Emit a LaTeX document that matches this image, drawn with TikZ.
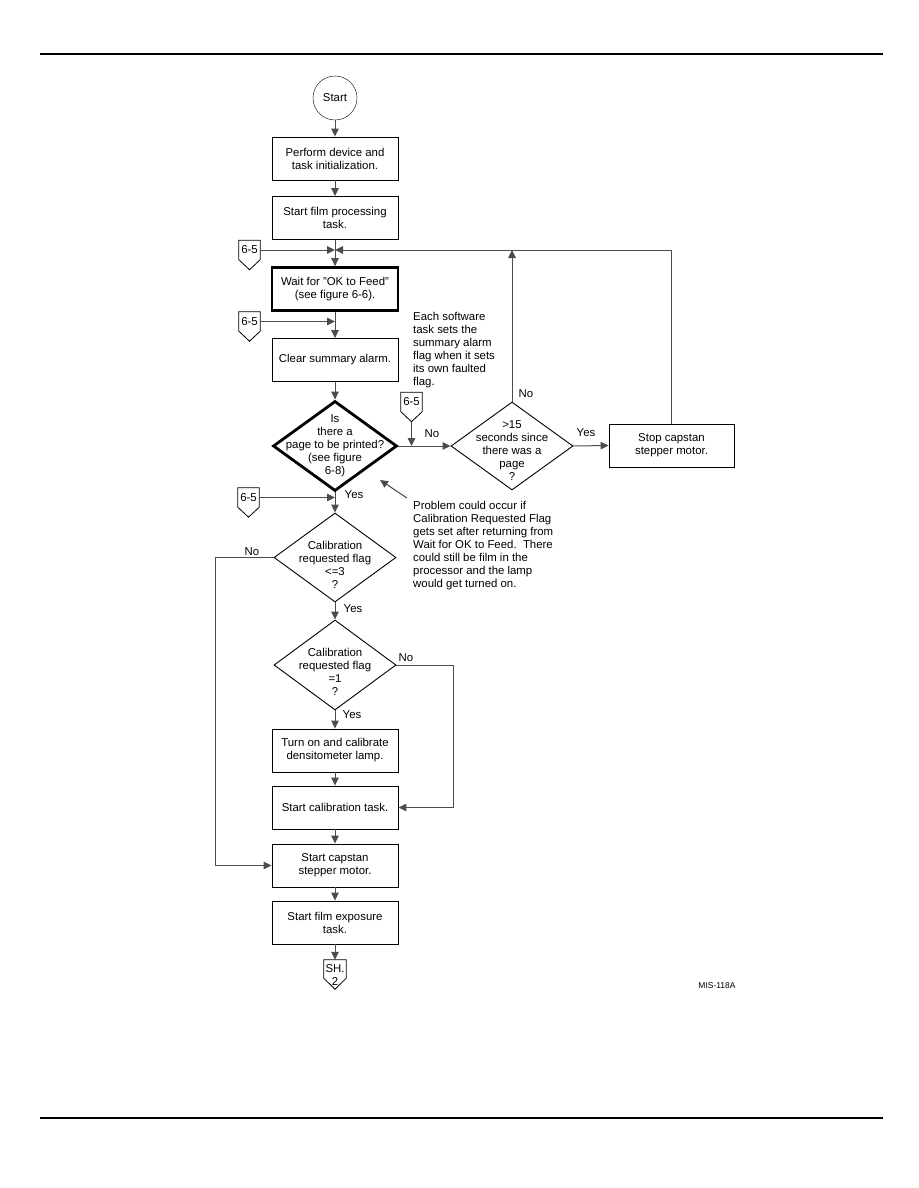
\documentclass[tikz,border=0pt]{standalone}
\usepackage{fontspec}
\setmainfont{Liberation Sans}
\usetikzlibrary{calc,shapes.geometric,arrows.meta}

\begin{document}
\begin{tikzpicture}[x=1pt, y=-1pt, >={Triangle[length=8pt,width=7.5pt]},
  txt/.style={font=\fontsize{11.4}{13}\selectfont},
  box/.style={txt, draw, line width=0.9pt, minimum width=126pt,
    minimum height=43pt, inner sep=0pt, align=center},
  dia/.style={draw, diamond, line width=0.9pt, minimum width=122pt,
    minimum height=88pt, inner sep=0pt},
  conn/.style={txt, minimum width=21pt, minimum height=19pt, inner sep=0pt},
  line/.style={draw=black!70, line width=1pt},
  lbl/.style={txt, inner sep=0pt},
  note/.style={txt, align=left, anchor=north west, inner sep=0pt}]

\useasboundingbox (0,0) rectangle (918,1188);

% Page rules
\draw[line width=2pt] (40,54) -- (883,54);
\draw[line width=2pt] (40,1118) -- (883,1118);

% Off-page connector: name, x, y, text
\def\offpage#1#2#3#4{%
  \node[conn] (#1) at (#2,#3) {#4};
  \draw[line width=0.8pt] (#1.north west) -- (#1.north east) -- (#1.south east)
    -- ($(#1.south)+(0,10)$) coordinate (#1-tip) -- (#1.south west) -- cycle;
}

% Main column
\node[draw, circle, minimum size=44pt, inner sep=0pt, txt] (start) at (335,98) {Start};
\node[box] (init) at (335,158.5) {Perform device and\\task initialization.};
\node[box] (proc) at (335,218) {Start film processing\\task.};
\coordinate (join) at (335,250);
\node[box, line width=2.8pt] (wait) at (335,289) {Wait for "OK to Feed"\\(see figure 6-6).};
\node[box] (clear) at (335,360) {Clear summary alarm.};
\node[dia, line width=2.8pt, minimum width=124pt, minimum height=90pt,
  label={[txt, align=center]center:Is\\there a\\page to be printed?\\(see figure\\6-8)}]
  (page) at (335,446) {};
\node[dia, label={[txt, align=center, yshift=-5pt]center:>15\\seconds since\\there was a\\page\\?}]
  (secs) at (512,446) {};
\node[box, minimum width=125pt] (stop) at (671.5,445.5) {Stop capstan\\stepper motor.};
\node[dia, minimum height=89pt,
  label={[txt, align=center, yshift=-7pt]center:Calibration\\requested flag\\<=3\\?}]
  (cal3) at (335,557.5) {};
\node[dia, minimum height=90pt,
  label={[txt, align=center, yshift=-7pt]center:Calibration\\requested flag\\=1\\?}]
  (cal1) at (335,665) {};
\node[box] (lamp) at (335,750.5) {Turn on and calibrate\\densitometer lamp.};
\node[box] (caltask) at (335,807.5) {Start calibration task.};
\node[box] (capstan) at (335,865.5) {Start capstan\\stepper motor.};
\node[box] (expo) at (335,922.5) {Start film exposure\\task.};

% Off-page connectors
\offpage{ca}{249.5}{250}{6-5}
\offpage{cb}{249.5}{321.5}{6-5}
\offpage{cc}{411.5}{402}{6-5}
\offpage{cd}{248.5}{497.5}{6-5}
\node[conn, minimum width=22pt, minimum height=18pt] (sh) at (335,969) {};
\draw[line width=0.8pt] (sh.north west) -- (sh.north east) -- (sh.south east)
  -- ($(sh.south)+(0,11)$) -- (sh.south west) -- cycle;
\node[txt, align=center, inner sep=0pt] (shtxt) at (335,975.5) {SH.\\2};

% Flow
\draw[line, ->] (start) -- (init);
\draw[line, ->] (init) -- (proc);
\draw[line, ->] (proc) -- (wait);
\draw[line, ->] (ca.east) -- (join);
\draw[line, ->] (stop.north) |- (join);
\draw[line, ->] (secs.north) -- (secs.north |- join);
\draw[line, ->] (wait) -- (clear);
\draw[line, ->] (cb.east) -- (cb.east -| wait.south);
\draw[line, ->] (clear) -- (page);
\draw[line, ->] (page.east) -- (secs.west);
\draw[line, ->] (cc-tip) -- (cc-tip |- page.east);
\draw[line, ->] (secs.east) -- (stop.west);
\draw[line, ->] (page.south) -- (cal3.north);
\draw[line, ->] (cd.east) -- (cd.east -| page.south);
\draw[line, ->] (cal3.south) -- (cal1.north);
\draw[line, ->] (cal3.west) -- ++(-58,0) |- (capstan.west);
\draw[line, ->] (cal1.east) -- ++(57,0) |- (caltask.east);
\draw[line, ->] (cal1.south) -- (lamp.north);
\draw[line, ->] (lamp) -- (caltask);
\draw[line, ->] (caltask) -- (capstan);
\draw[line, ->] (capstan) -- (expo);
\draw[line, ->] (expo) -- (sh.north);

% Branch labels
\node[lbl] (pageno) at (432,434) {No};
\node[lbl] (pageyes) at (354,495) {Yes};
\node[lbl] (secsno) at (526,394) {No};
\node[lbl] (secsyes) at (586,433) {Yes};
\node[lbl] (cal3no) at (252,552) {No};
\node[lbl] (cal3yes) at (353,609) {Yes};
\node[lbl] (cal1no) at (406,658) {No};
\node[lbl] (cal1yes) at (352,715) {Yes};

% Notes
\node[note] (alarmnote) at (413,312) {Each software\\task sets the\\summary alarm\\flag when it sets\\its own faulted\\flag.};
\node[note] (calnote) at (413,501) {Problem could occur if\\Calibration Requested Flag\\gets set after returning from\\Wait for OK to Feed.\ \ There\\could still be film in the\\processor and the lamp\\would get turned on.};
\coordinate (noteend) at (407,498);
\coordinate (notetip) at (380,480);
\draw[line, ->] (noteend) -- (notetip);

% Drawing number
\node[font=\fontsize{8.5}{10}\selectfont, inner sep=0pt] (drawno) at (717,986) {MIS-118A};

\end{tikzpicture}
\end{document}
